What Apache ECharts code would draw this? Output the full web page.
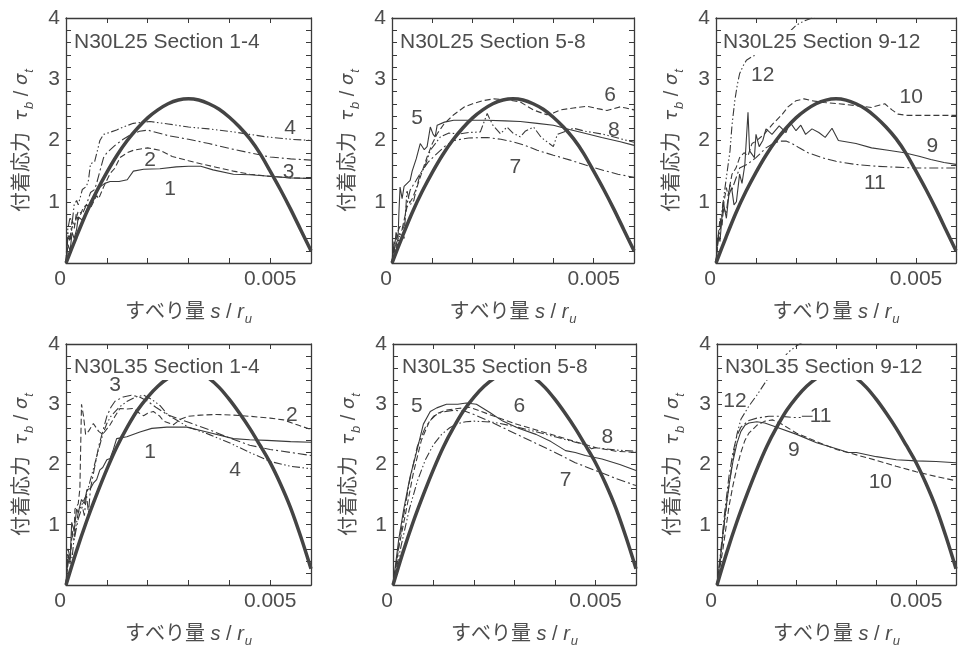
<!DOCTYPE html>
<html>
<head>
<meta charset="utf-8">
<script src="https://cdn.jsdelivr.net/npm/echarts@6/dist/echarts.min.js"></script>
<style>
  html, body { margin: 0; padding: 0; background: #fff; }
  #chart { width: 959px; height: 649px; }
</style>
</head>
<body>
<div id="chart"></div>
<script>
// ---- data (x = s/ru, y = tau_b/sigma_t) ----
var xTicksLabelled = [0, 0.005];

// thick reference curve, L25 (top row) and L35 (bottom row)
var arcL25 = [[0,0],[0.00025,0.42],[0.0005,0.82],[0.00075,1.17],[0.001,1.48],[0.00125,1.76],[0.0015,2.0],[0.00175,2.2],[0.002,2.37],[0.00225,2.5],[0.0025,2.6],[0.00275,2.66],[0.003,2.68],[0.00325,2.66],[0.0035,2.6],[0.00375,2.51],[0.004,2.38],[0.00425,2.22],[0.0045,2.03],[0.00475,1.79],[0.005,1.5],[0.00525,1.2],[0.0055,0.88],[0.00575,0.54],[0.006,0.2]];
var arcL35 = [[0,0],[0.00025,0.55],[0.0005,1.05],[0.00075,1.5],[0.001,1.92],[0.00125,2.3],[0.0015,2.62],[0.00175,2.9],[0.002,3.12],[0.00225,3.3],[0.0025,3.43],[0.00275,3.52],[0.003,3.55],[0.00325,3.52],[0.0035,3.43],[0.00375,3.28],[0.004,3.08],[0.00425,2.85],[0.0045,2.6],[0.00475,2.32],[0.005,2.03],[0.00525,1.68],[0.0055,1.28],[0.00575,0.8],[0.006,0.27]];

// N30L25 section 1-4
var L25s1 = [[0,0],[0.00005,0.3],[0.0001,0.2],[0.00015,0.5],[0.0002,0.4],[0.00026,0.55],[0.0003,0.75],[0.0004,0.7],[0.0005,0.85],[0.0006,1.0],[0.0007,1.1],[0.00083,1.24],[0.00095,1.3],[0.00108,1.33],[0.0013,1.33],[0.0015,1.36],[0.00165,1.5],[0.0019,1.53],[0.0023,1.54],[0.0027,1.57],[0.003,1.58],[0.0033,1.58],[0.0036,1.52],[0.0041,1.45],[0.0045,1.44],[0.0049,1.42],[0.0055,1.39],[0.006,1.38]];
var L25s2 = [[0,0],[0.00005,0.45],[0.0001,0.35],[0.00015,0.6],[0.0002,0.55],[0.00025,0.8],[0.0003,0.7],[0.00042,0.9],[0.0005,0.95],[0.0006,0.9],[0.00075,1.1],[0.0008,1.05],[0.00092,1.24],[0.001,1.35],[0.00108,1.46],[0.0012,1.55],[0.00132,1.72],[0.0015,1.8],[0.00165,1.84],[0.002,1.88],[0.0023,1.84],[0.0026,1.74],[0.003,1.67],[0.0033,1.62],[0.0037,1.56],[0.0041,1.5],[0.0045,1.45],[0.0049,1.42],[0.0055,1.39],[0.006,1.38]];
var L25s3 = [[0,0],[0.00005,0.5],[0.0001,0.4],[0.00015,0.7],[0.0002,0.6],[0.0003,0.85],[0.0004,0.8],[0.0005,0.95],[0.0006,1.15],[0.0007,1.2],[0.00075,1.3],[0.00085,1.55],[0.00092,1.72],[0.001,1.8],[0.0012,1.92],[0.0014,2.02],[0.0016,2.1],[0.0018,2.15],[0.002,2.17],[0.0025,2.08],[0.003,2.02],[0.0035,1.95],[0.004,1.87],[0.0045,1.8],[0.005,1.73],[0.0055,1.7],[0.006,1.68]];
var L25s4 = [[0,0],[0.00003,0.5],[0.0001,0.75],[0.00015,0.65],[0.0002,0.95],[0.00026,1.02],[0.0003,0.95],[0.0004,1.2],[0.0005,1.25],[0.00055,1.35],[0.0006,1.62],[0.0007,1.65],[0.00083,2.0],[0.00092,2.1],[0.00124,2.17],[0.0014,2.22],[0.00165,2.28],[0.0019,2.3],[0.00206,2.31],[0.0025,2.27],[0.003,2.22],[0.0035,2.19],[0.0041,2.14],[0.0045,2.1],[0.0049,2.06],[0.0055,2.02],[0.006,2.0]];
// N30L25 section 5-8
var L25s5 = [[0,0],[0.00003,0.3],[0.00005,0.15],[0.0001,0.5],[0.00015,0.4],[0.00017,0.8],[0.0002,1.24],[0.00025,1.05],[0.0003,1.25],[0.00045,1.35],[0.0005,1.5],[0.0006,1.7],[0.0007,1.95],[0.0008,1.85],[0.00087,1.9],[0.00095,2.22],[0.00102,2.1],[0.00107,2.06],[0.00112,2.25],[0.0013,2.3],[0.00153,2.33],[0.002,2.33],[0.00236,2.33],[0.0028,2.32],[0.00318,2.31],[0.0036,2.28],[0.004,2.25],[0.0044,2.18],[0.00483,2.11],[0.0052,2.05],[0.00566,1.98],[0.006,1.92]];
var L25s6 = [[0,0],[0.00005,0.35],[0.0001,0.25],[0.00012,0.48],[0.0002,0.6],[0.00025,0.55],[0.00037,0.91],[0.0005,1.05],[0.00062,1.24],[0.00075,1.5],[0.00087,1.73],[0.001,1.95],[0.00112,2.11],[0.0013,2.28],[0.00153,2.42],[0.0018,2.55],[0.002,2.6],[0.00225,2.65],[0.00252,2.68],[0.0029,2.66],[0.00318,2.63],[0.0035,2.5],[0.00384,2.42],[0.004,2.45],[0.00417,2.5],[0.0045,2.53],[0.00483,2.56],[0.0051,2.52],[0.00533,2.49],[0.00566,2.55],[0.0058,2.53],[0.006,2.5]];
var L25s7 = [[0,0],[0.0001,0.3],[0.0002,0.5],[0.00029,0.58],[0.00035,0.9],[0.00045,1.19],[0.0006,1.35],[0.0007,1.46],[0.0009,1.65],[0.00112,1.79],[0.0013,1.9],[0.00153,2.0],[0.0019,2.04],[0.00236,2.05],[0.0027,2.02],[0.003,1.98],[0.0033,1.92],[0.0036,1.84],[0.004,1.76],[0.00442,1.68],[0.0048,1.6],[0.00525,1.51],[0.0056,1.45],[0.006,1.4]];
var L25s8 = [[0,0],[0.00005,0.25],[0.0001,0.2],[0.0002,0.48],[0.0003,0.4],[0.00037,1.19],[0.00045,0.95],[0.00054,1.02],[0.0006,1.2],[0.0007,1.46],[0.0008,1.55],[0.00095,1.84],[0.0012,2.06],[0.0014,2.12],[0.0017,2.11],[0.0019,2.13],[0.00219,2.14],[0.00236,2.44],[0.0025,2.25],[0.00269,2.11],[0.00285,2.22],[0.003,2.12],[0.00318,2.06],[0.0033,2.15],[0.00351,2.22],[0.0037,2.05],[0.0039,1.95],[0.004,1.9],[0.0041,2.1],[0.0045,2.2],[0.0048,2.15],[0.00525,2.1],[0.0056,2.04],[0.006,1.97]];
// N30L25 section 9-12
var L25s9 = [[0,0],[0.00003,0.3],[0.00006,0.46],[0.0001,0.35],[0.00018,1.0],[0.00026,0.73],[0.00032,1.1],[0.00039,1.23],[0.00045,0.95],[0.00051,1.0],[0.00059,1.45],[0.00065,1.3],[0.00072,1.6],[0.0008,2.46],[0.00084,1.83],[0.00096,1.72],[0.001,2.1],[0.00108,1.9],[0.00117,2.0],[0.00125,2.19],[0.0014,2.1],[0.00158,2.24],[0.00175,2.13],[0.00185,2.3],[0.002,2.16],[0.00212,2.25],[0.00224,2.1],[0.0024,2.19],[0.00257,2.13],[0.00273,2.05],[0.0029,2.2],[0.00306,2.0],[0.0035,1.95],[0.00389,1.88],[0.0043,1.84],[0.00471,1.8],[0.0051,1.74],[0.00537,1.69],[0.0057,1.64],[0.006,1.61]];
var L25s10 = [[0,0],[0.00005,0.4],[0.0001,0.73],[0.00015,0.6],[0.0002,1.0],[0.00026,1.23],[0.0003,1.1],[0.0004,1.45],[0.0005,1.55],[0.00059,1.72],[0.0007,1.8],[0.0008,1.75],[0.0009,1.95],[0.001,1.99],[0.0012,2.1],[0.00142,2.27],[0.00166,2.43],[0.0018,2.55],[0.002,2.65],[0.0022,2.68],[0.0024,2.65],[0.0027,2.62],[0.00306,2.6],[0.0035,2.57],[0.00389,2.54],[0.0041,2.58],[0.00422,2.6],[0.0044,2.5],[0.00455,2.43],[0.0048,2.41],[0.00512,2.41],[0.0055,2.41],[0.006,2.41]];
var L25s11 = [[0,0],[0.00005,0.35],[0.0001,0.5],[0.00014,0.73],[0.0002,0.9],[0.00025,0.8],[0.00035,1.28],[0.0004,1.2],[0.00059,1.55],[0.0008,1.62],[0.001,1.72],[0.00125,1.88],[0.0014,1.94],[0.00158,1.99],[0.00175,1.99],[0.0019,1.95],[0.00208,1.88],[0.0023,1.8],[0.00265,1.72],[0.003,1.66],[0.00348,1.61],[0.004,1.58],[0.0043,1.57],[0.005,1.55],[0.006,1.55]];
var L25s12 = [[0,0],[0.00005,0.4],[0.0001,0.6],[0.00018,1.0],[0.00025,1.35],[0.00035,1.83],[0.0004,2.25],[0.00047,2.65],[0.00053,2.9],[0.00059,3.09],[0.00068,3.22],[0.00076,3.31],[0.0009,3.37],[0.00109,3.42],[0.00133,3.48],[0.0016,3.6],[0.0018,3.75],[0.002,3.88],[0.0022,3.95],[0.0024,4.0],[0.0027,4.1]];

// N30L35 section 1-4
var L35s1 = [[0,0],[0.00003,0.3],[0.00006,0.49],[0.0001,0.4],[0.00014,1.04],[0.0002,0.9],[0.00026,1.26],[0.0003,1.2],[0.00038,1.42],[0.00045,1.35],[0.00051,1.58],[0.0006,1.6],[0.00067,1.69],[0.00075,1.75],[0.00083,1.91],[0.0009,1.95],[0.001,2.08],[0.00108,2.1],[0.00116,2.25],[0.0012,2.22],[0.00124,2.43],[0.00149,2.46],[0.00181,2.54],[0.0021,2.6],[0.00247,2.62],[0.00296,2.62],[0.00345,2.54],[0.0041,2.43],[0.0045,2.41],[0.00492,2.4],[0.0055,2.38],[0.006,2.37]];
var L35s2 = [[0,0],[0.00005,0.5],[0.0001,0.35],[0.00014,0.77],[0.0002,0.9],[0.00022,1.26],[0.0003,1.35],[0.00034,1.6],[0.00038,3.0],[0.00043,2.8],[0.00048,2.5],[0.00055,2.55],[0.00067,2.68],[0.0008,2.55],[0.0009,2.5],[0.00108,2.66],[0.0012,2.8],[0.00132,2.93],[0.0015,2.92],[0.00165,2.93],[0.0018,2.85],[0.0019,2.81],[0.002,2.85],[0.00214,2.88],[0.0023,2.8],[0.00239,2.72],[0.00263,2.66],[0.0028,2.75],[0.003,2.8],[0.0033,2.82],[0.00369,2.83],[0.0041,2.82],[0.00451,2.8],[0.005,2.77],[0.00533,2.74],[0.0057,2.65],[0.006,2.58]];
var L35s3 = [[0,0],[0.00005,0.6],[0.0001,0.45],[0.00015,0.9],[0.0002,0.75],[0.0003,1.1],[0.0004,1.3],[0.00045,1.15],[0.0005,1.5],[0.00055,1.2],[0.0006,1.6],[0.0007,1.95],[0.0008,2.3],[0.0009,2.55],[0.001,2.8],[0.0011,2.95],[0.0012,3.05],[0.0014,3.12],[0.0016,3.15],[0.0018,3.12],[0.002,3.05],[0.0022,2.95],[0.0025,2.82],[0.003,2.7],[0.0035,2.58],[0.004,2.44],[0.0045,2.32],[0.005,2.25],[0.0055,2.2],[0.006,2.15]];
var L35s4 = [[0,0],[0.00005,0.35],[0.0001,0.5],[0.00015,0.45],[0.0002,0.8],[0.0003,1.2],[0.0004,1.35],[0.0005,1.5],[0.0006,1.75],[0.0007,2.0],[0.0008,2.25],[0.0009,2.5],[0.001,2.68],[0.0011,2.8],[0.0013,2.95],[0.0015,3.05],[0.0017,3.12],[0.0019,3.15],[0.0021,3.08],[0.0023,2.98],[0.0025,2.82],[0.0028,2.7],[0.003,2.62],[0.0035,2.5],[0.004,2.36],[0.0045,2.2],[0.005,2.05],[0.0055,1.97],[0.006,1.93]];
// N30L35 section 5-8
var L35s5 = [[0,0],[0.00014,0.75],[0.00026,1.24],[0.00042,1.79],[0.00059,2.23],[0.00075,2.67],[0.00092,2.88],[0.00108,2.94],[0.00132,3.0],[0.0016,3.0],[0.00181,3.02],[0.00206,3.0],[0.0024,2.86],[0.00271,2.72],[0.0031,2.6],[0.00353,2.5],[0.0039,2.38],[0.00426,2.23],[0.0045,2.2],[0.00475,2.15],[0.00516,2.09],[0.0056,2.0],[0.006,1.9]];
var L35s6 = [[0,0],[0.00015,0.65],[0.0003,1.15],[0.0005,1.85],[0.0007,2.4],[0.0009,2.72],[0.0011,2.85],[0.0013,2.9],[0.0016,2.93],[0.0019,2.95],[0.0021,2.9],[0.0025,2.8],[0.003,2.68],[0.0035,2.58],[0.004,2.48],[0.0045,2.38],[0.005,2.28],[0.0055,2.22],[0.006,2.2]];
var L35s7 = [[0,0],[0.0002,0.9],[0.0004,1.7],[0.0006,2.3],[0.0008,2.62],[0.001,2.8],[0.0012,2.87],[0.0015,2.9],[0.0018,2.88],[0.002,2.83],[0.0025,2.68],[0.003,2.52],[0.0035,2.36],[0.004,2.2],[0.0045,2.03],[0.005,1.9],[0.0055,1.77],[0.006,1.65]];
var L35s8 = [[0,0],[0.0002,0.65],[0.0004,1.25],[0.0006,1.72],[0.0008,2.08],[0.001,2.33],[0.0012,2.5],[0.0014,2.61],[0.0016,2.68],[0.0018,2.71],[0.002,2.72],[0.0025,2.7],[0.003,2.63],[0.0035,2.55],[0.004,2.46],[0.0045,2.37],[0.0048,2.32],[0.0049,2.26],[0.005,2.28],[0.0055,2.24],[0.006,2.22]];
// N30L35 section 9-12
var L35s9 = [[0,0],[0.0001,0.55],[0.0002,1.15],[0.0003,1.65],[0.0004,2.05],[0.0005,2.35],[0.0006,2.55],[0.0007,2.65],[0.0008,2.69],[0.001,2.71],[0.0012,2.69],[0.0015,2.62],[0.002,2.5],[0.0025,2.36],[0.003,2.26],[0.0033,2.2],[0.0035,2.2],[0.004,2.13],[0.0045,2.08],[0.005,2.06],[0.0055,2.05],[0.006,2.03]];
var L35s10 = [[0,0],[0.00015,0.6],[0.0003,1.3],[0.0004,1.65],[0.0005,1.95],[0.0006,2.2],[0.0007,2.4],[0.0008,2.52],[0.001,2.65],[0.0012,2.72],[0.0014,2.74],[0.0016,2.68],[0.002,2.52],[0.0025,2.38],[0.003,2.25],[0.0035,2.16],[0.004,2.07],[0.0045,1.97],[0.005,1.88],[0.0055,1.8],[0.006,1.73]];
var L35s11 = [[0,0],[0.0001,0.6],[0.0002,1.25],[0.0003,1.8],[0.0004,2.2],[0.0005,2.48],[0.0006,2.62],[0.0008,2.73],[0.001,2.77],[0.0013,2.8],[0.0016,2.8],[0.0019,2.78],[0.0021,2.78]];
var L35s12 = [[0,0],[0.0001,0.5],[0.0002,1.1],[0.0003,1.65],[0.0004,2.1],[0.0005,2.5],[0.0006,2.75],[0.0008,2.97],[0.001,3.15],[0.0012,3.35],[0.0014,3.55],[0.0016,3.72],[0.0018,3.87],[0.002,3.97],[0.0022,4.05]];
var L35lead11 = [[0.00213,2.8],[0.0024,2.8]];

// curve number labels [x, y, text]
var tagsP1 = [[0.00255,1.21,'1'],[0.00206,1.68,'2'],[0.00545,1.49,'3'],[0.00549,2.2,'4']];
var tagsP2 = [[0.00062,2.36,'5'],[0.00541,2.74,'6'],[0.00306,1.57,'7'],[0.0055,2.17,'8']];
var tagsP3 = [[0.00541,1.91,'9'],[0.00488,2.71,'10'],[0.00397,1.31,'11'],[0.00117,3.07,'12']];
var tagsP4 = [[0.00206,2.21,'1'],[0.00553,2.81,'2'],[0.0012,3.31,'3'],[0.00414,1.91,'4']];
var tagsP5 = [[0.00059,2.97,'5'],[0.00312,2.97,'6'],[0.00426,1.74,'7'],[0.00529,2.45,'8']];
var tagsP6 = [[0.00193,2.23,'9'],[0.0041,1.71,'10'],[0.0026,2.8,'11'],[0.00045,3.05,'12']];

var titles = ['N30L25 Section 1-4', 'N30L25 Section 5-8', 'N30L25 Section 9-12',
              'N30L35 Section 1-4', 'N30L35 Section 5-8', 'N30L35 Section 9-12'];

// ---- layout / style ----
var FONT = "'Liberation Sans', Arial, 'Noto Sans CJK JP', sans-serif";
var INK = '#3a3a3a';
var TXT = '#4d4d4d';
var DASH = ['solid', [6, 3], [9, 3, 2, 3], [8, 2.5, 1.5, 2.5, 1.5, 2.5]];

var panels = [
  { grid: { left: 66, top: 18, width: 245, height: 245 }, title: [72, 30], arc: arcL25, curves: [L25s1, L25s2, L25s3, L25s4], tags: tagsP1 },
  { grid: { left: 392, top: 18, width: 242, height: 245 }, title: [398, 30], arc: arcL25, curves: [L25s5, L25s6, L25s7, L25s8], tags: tagsP2 },
  { grid: { left: 716, top: 18, width: 242, height: 245 }, title: [721, 30], arc: arcL25, curves: [L25s9, L25s10, L25s11, L25s12], tags: tagsP3 },
  { grid: { left: 66, top: 344, width: 245, height: 244 }, title: [72, 355], arc: arcL35, curves: [L35s1, L35s2, L35s3, L35s4], tags: tagsP4 },
  { grid: { left: 393, top: 344, width: 243, height: 244 }, title: [400, 355], arc: arcL35, curves: [L35s5, L35s6, L35s7, L35s8], tags: tagsP5 },
  { grid: { left: 717, top: 344, width: 242, height: 244 }, title: [723, 355], arc: arcL35, curves: [L35s9, L35s10, L35s11, L35s12], tags: tagsP6, extra: L35lead11 }
];

var nameRich = {
  g: { fontFamily: 'DejaVu Sans', fontStyle: 'italic', fontSize: 18, color: TXT },
  i: { fontFamily: FONT, fontStyle: 'italic', fontSize: 20, color: TXT },
  n: { fontFamily: FONT, fontSize: 20, color: TXT },
  sb: { fontFamily: FONT, fontStyle: 'italic', fontSize: 13, color: TXT, verticalAlign: 'bottom', padding: [14, 0, 0, 1] }
};
var yName = '付着応力  {g|τ}{sb|b}{n| / }{g|σ}{sb|t}';
var xName = 'すべり量 {i|s}{n| / }{i|r}{sb|u}';

var axisLine = { show: true, onZero: false, lineStyle: { color: INK, width: 1.3 } };
var tick = { show: true, inside: true, length: 5, lineStyle: { color: INK, width: 1 } };
var minor = { show: true, splitNumber: 5, length: 5, lineStyle: { color: INK, width: 1 } };

var grids = [], xAxes = [], yAxes = [], series = [], titleList = [];

panels.forEach(function (p, i) {
  grids.push(p.grid);
  titleList.push({
    text: titles[i], left: p.title[0], top: p.title[1], z: 6,
    backgroundColor: '#fff', padding: [2, 2, 2, 2],
    textStyle: { fontFamily: FONT, fontSize: 21, fontWeight: 'normal', color: TXT }
  });

  xAxes.push({
    gridIndex: i, type: 'value', position: 'bottom', min: 0, max: 0.006, interval: 0.001,
    axisLine: axisLine, axisTick: tick, splitLine: { show: false },
    axisLabel: {
      color: TXT, fontFamily: FONT, fontSize: 21, margin: 6,
      formatter: function (v) {
        if (Math.abs(v - xTicksLabelled[0]) < 1e-12) return '{z|0}';
        if (Math.abs(v - xTicksLabelled[1]) < 1e-9) return '0.005';
        return '';
      },
      rich: { z: { color: TXT, fontFamily: FONT, fontSize: 21, padding: [0, 12, 0, 0] } }
    },
    name: xName, nameLocation: 'middle', nameGap: 36,
    nameTextStyle: { color: TXT, fontFamily: FONT, fontSize: 20, rich: nameRich }
  });
  xAxes.push({
    gridIndex: i, type: 'value', position: 'top', min: 0, max: 0.006, interval: 0.001,
    axisLine: axisLine, axisTick: tick, splitLine: { show: false }, axisLabel: { show: false }
  });

  yAxes.push({
    gridIndex: i, type: 'value', position: 'left', min: 0, max: 4, interval: 1,
    axisLine: axisLine, axisTick: tick, minorTick: minor,
    splitLine: { show: false }, minorSplitLine: { show: false },
    axisLabel: {
      color: TXT, fontFamily: FONT, fontSize: 21, margin: 6,
      formatter: function (v) { return v === 0 ? '' : String(v); }
    },
    name: yName, nameLocation: 'middle', nameRotate: 90, nameGap: 30,
    nameTextStyle: { color: TXT, fontFamily: FONT, fontSize: 20, rich: nameRich }
  });
  yAxes.push({
    gridIndex: i, type: 'value', position: 'right', min: 0, max: 4, interval: 1,
    axisLine: axisLine, axisTick: tick, minorTick: minor,
    splitLine: { show: false }, minorSplitLine: { show: false }, axisLabel: { show: false }
  });

  var xi = i * 2, yi = i * 2;
  series.push({
    type: 'line', xAxisIndex: xi, yAxisIndex: yi, data: p.arc, smooth: 0.3,
    symbol: 'none', lineStyle: { color: '#444', width: 3.5 }, z: 3
  });
  p.curves.forEach(function (c, k) {
    series.push({
      type: 'line', xAxisIndex: xi, yAxisIndex: yi, data: c,
      symbol: 'none', lineStyle: { color: INK, width: 1.1, type: DASH[k] }, z: 2
    });
  });
  if (p.extra) {
    series.push({
      type: 'line', xAxisIndex: xi, yAxisIndex: yi, data: p.extra,
      symbol: 'none', lineStyle: { color: INK, width: 1.1 }, z: 2
    });
  }
  series.push({
    type: 'scatter', xAxisIndex: xi, yAxisIndex: yi, data: p.tags,
    symbolSize: 2, itemStyle: { color: 'rgba(0,0,0,0)', opacity: 1 }, z: 8,
    label: {
      show: true, position: [1, 1], align: 'center', verticalAlign: 'middle',
      color: TXT, opacity: 1, fontFamily: FONT, fontSize: 21, textBorderWidth: 0,
      formatter: function (d) { return d.value[2]; }
    }
  });
});

var chart = echarts.init(document.getElementById('chart'));
chart.setOption({
  animation: false,
  backgroundColor: '#fff',
  title: titleList,
  grid: grids,
  xAxis: xAxes,
  yAxis: yAxes,
  series: series
});
</script>
</body>
</html>
